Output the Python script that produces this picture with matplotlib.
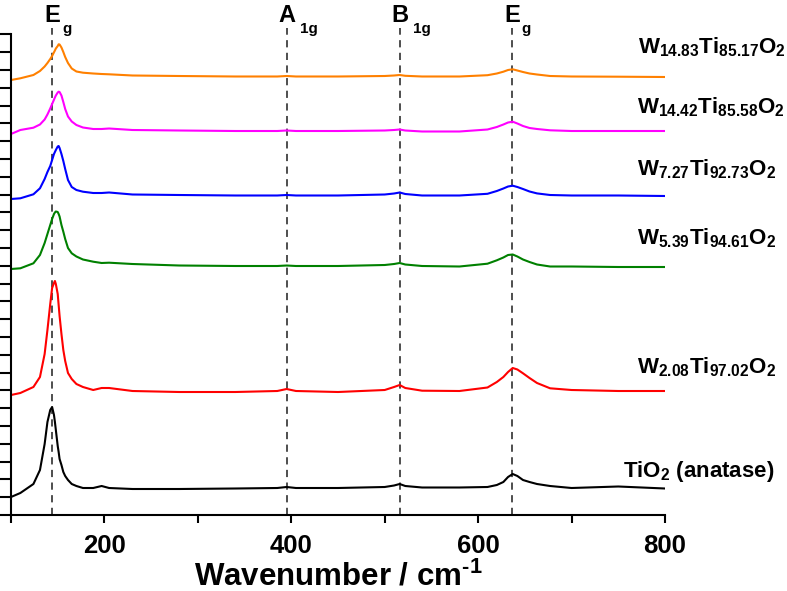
import numpy as np
import matplotlib
matplotlib.use('Agg')
import matplotlib.pyplot as plt
from matplotlib.ticker import MultipleLocator

plt.rcParams['font.family'] = ['Liberation Sans', 'DejaVu Sans']
plt.rcParams['font.weight'] = 'bold'
plt.rcParams['mathtext.fontset'] = 'custom'
plt.rcParams['mathtext.rm'] = 'Liberation Sans:bold'
plt.rcParams['mathtext.bf'] = 'Liberation Sans:bold'
plt.rcParams['mathtext.it'] = 'Liberation Sans:bold'

wavenumber = [100, 110, 124, 131, 136, 139, 142, 144, 146, 147, 148, 150, 151, 152, 154, 156,
              158, 161, 165, 170, 177, 188, 197, 205, 230, 280, 340, 385, 395, 405, 450,
              500, 510, 516, 522, 540, 580, 610, 620, 627, 632, 637, 642, 648, 655, 663,
              677, 700, 750, 800]

# intensities (a.u., already stacked with offset)
tio2 = [18, 22, 31, 45, 71, 93, 105, 108, 100, 93, 85, 69, 63, 56, 50, 43,
        39, 35, 31, 29, 27, 27, 29, 27, 26, 26, 26.5, 27, 28, 27, 27,
        28, 29.5, 31, 29, 27.5, 27.5, 28, 30, 33, 38, 41, 39, 35, 33, 31,
        29, 27, 28.5, 26.5]
w208 = [120, 122, 128, 138, 161, 185, 211, 227, 232, 234, 231, 221, 210, 199, 181, 165,
        154, 142, 136, 131, 128, 125, 127, 127, 124, 123, 123, 124, 126, 124, 123,
        125, 128, 130, 127, 124.3, 124, 127.5, 133, 138, 143, 147, 145.5, 141.7, 137, 132,
        126.7, 125, 124, 124]
w539 = [246, 246.7, 251.7, 260, 272, 281, 290, 296, 301, 302.5, 303.5, 303, 301, 298.5, 290, 283.3,
        276, 267, 261.7, 258.5, 255.5, 253.3, 252, 252.3, 251, 249.5, 249, 249, 249.5, 249, 249,
        250, 251, 252, 250.5, 249, 248.5, 251.3, 254.7, 257.5, 260, 260.5, 258.5, 255.5, 253, 250.5,
        248.5, 248.5, 248, 248]
w727 = [316, 316.7, 320.7, 326.7, 336, 343, 349, 355, 361, 363, 365, 368.5, 369, 367, 361, 354,
        346, 335, 328, 325, 323.3, 322, 322, 322.5, 320.5, 320, 319.5, 319.5, 320, 319.5, 319.5,
        320.5, 321.5, 322.5, 321, 319.5, 319.5, 321.2, 324, 326.5, 328.5, 329.3, 328, 326, 323.5, 321.6,
        320, 319.5, 319.5, 319]
w1442 = [381, 385, 387.3, 390.5, 395.5, 400.5, 406.5, 411, 415.3, 417.5, 419.5, 422.5, 423.3, 423, 419.5, 413,
         406, 398.5, 393.5, 390, 387.5, 386, 386, 386.5, 385, 384.5, 384, 384, 384.5, 384, 384,
         384.5, 385, 385.5, 384.5, 383.5, 383.5, 385.5, 388, 390.5, 392.5, 393.3, 391.5, 389, 387, 386,
         384.7, 384, 384, 384]
w1483 = [435, 436.7, 440, 444, 448.5, 452, 456, 459, 462.7, 464.5, 466.5, 469, 470.7, 470.5, 467.5, 463,
         458, 452, 446.5, 443.5, 442.3, 441.5, 441, 440.7, 439.5, 439, 438.5, 438.5, 439, 438.5, 438.5,
         439, 439.5, 440, 439.2, 438.5, 438.5, 439.8, 441.5, 443.3, 445, 445.7, 444.5, 443, 441.5, 440.5,
         439, 438.5, 438.3, 438]

series = [tio2, w208, w539, w727, w1442, w1483]
colors = ['black', '#FF0000', '#008000', '#0000FF', '#FF00FF', '#FF8000']
labels = [r'TiO$_\mathbf{2}$ (anatase)',
          r'$\mathbf{W_{2.08}Ti_{97.02}O_2}$',
          r'$\mathbf{W_{5.39}Ti_{94.61}O_2}$',
          r'$\mathbf{W_{7.27}Ti_{92.73}O_2}$',
          r'$\mathbf{W_{14.42}Ti_{85.58}O_2}$',
          r'$\mathbf{W_{14.83}Ti_{85.17}O_2}$']
label_x = [755, 770, 770, 770, 770, 771]
label_y = [38, 142, 271, 340, 402, 462]

# Raman modes of anatase
mode_pos = [144, 395, 516, 636]
mode_main = ['E', 'A', 'B', 'E']
mode_sub = ['g', '1g', '1g', 'g']

fig = plt.figure(figsize=(7.87, 5.91), dpi=100)
ax = fig.add_axes([11/787, 1 - 515/591, 654/787, 487/591])

for y, c in zip(series, colors):
    ax.plot(wavenumber, y, color=c, lw=1.5)

for xm, m, s in zip(mode_pos, mode_main, mode_sub):
    ax.axvline(xm, color='#404040', lw=1.3, ls=(0, (4, 3)), zorder=0)
    ax.annotate(m, xy=(xm, 1), xycoords=('data', 'axes fraction'), xytext=(0, 6),
                textcoords='offset pixels', ha='center', va='baseline',
                fontsize=17, fontweight='bold', annotation_clip=False)
    off = 10 if s == 'g' else 13
    ax.annotate(s, xy=(xm, 1), xycoords=('data', 'axes fraction'), xytext=(off, -5),
                textcoords='offset pixels', ha='left', va='baseline',
                fontsize=11, fontweight='bold', annotation_clip=False)

for lab, lx, ly in zip(labels, label_x, label_y):
    ax.text(lx, ly, lab, fontsize=16, fontweight='bold', ha='left', va='baseline', clip_on=False)

ax.set_xlim(100, 800)
ax.set_ylim(0, 487)
ax.xaxis.set_major_locator(MultipleLocator(200))
ax.xaxis.set_minor_locator(MultipleLocator(100))
ax.set_yticks(np.arange(0, 482, 17.8))
ax.set_yticklabels([])
ax.spines['top'].set_visible(False)
ax.spines['right'].set_visible(False)
ax.spines['left'].set_bounds(0, 481)
ax.spines['left'].set_linewidth(1.5)
ax.spines['bottom'].set_linewidth(1.5)
ax.tick_params(axis='x', which='both', direction='out', length=6, width=1.5,
               labelsize=18.5, pad=8)
ax.tick_params(axis='y', direction='out', length=8, width=1.5)
for t in ax.get_xticklabels():
    t.set_fontweight('bold')

# x axis title placed by hand near the bottom edge
fig.text(338/787, 6/591, r'Wavenumber / cm$^{\text{-}\mathbf{1}}$', fontsize=22.5,
         fontweight='bold', ha='center', va='baseline')

fig.savefig('out.png', dpi=100)
